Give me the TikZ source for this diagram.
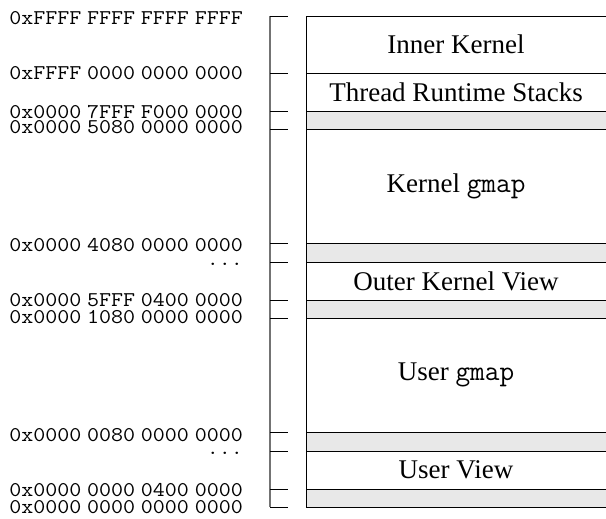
\documentclass[tikz,border=0pt]{standalone}
\usepackage{fontspec}
\usepackage{graphicx}
\setmainfont{Liberation Serif}
\newcommand{\hexsp}{\hspace{5.2pt}}
\newcommand{\hx}[4]{\scalebox{1.11}[1]{#1\hexsp#2\hexsp#3\hexsp#4}}
\begin{document}
\begin{tikzpicture}[x=1pt,y=-1pt,
  addr/.style={anchor=base east,inner sep=0pt,font=\fontsize{21}{22}\selectfont\ttfamily},
  region/.style={draw=black,line width=0.9pt},
  gap/.style={region,fill=black!9},
  lbl/.style={inner sep=0pt,font=\fontsize{27}{30}\selectfont},
  tick/.style={draw=black,line width=0.9pt},
  brace/.style={draw=black!55,line width=1.4pt}]
\useasboundingbox (0,0) rectangle (606,519);
% bracket
\coordinate (bt) at (270,16);
\coordinate (bb) at (270,507);
\draw[brace] (bt) -- (bb);
\foreach \y/\n in {16/a,73/b,111/c,129/d,243/e,262/f,300/g,318/h,432/i,451/j,489/k,507/l}{
  \coordinate (t\n) at (270,\y);
  \coordinate (u\n) at (288,\y);
  \draw[tick] (t\n) -- (u\n);
}
% regions
\draw[region] (306,16) rectangle (606,73);
\draw[region] (306,73) rectangle (606,111);
\draw[gap] (306,111) rectangle (606,129);
\draw[region] (306,129) rectangle (606,243);
\draw[gap] (306,243) rectangle (606,262);
\draw[region] (306,262) rectangle (606,300);
\draw[gap] (306,300) rectangle (606,318);
\draw[region] (306,318) rectangle (606,432);
\draw[gap] (306,432) rectangle (606,451);
\draw[region] (306,451) rectangle (606,489);
\draw[gap] (306,489) rectangle (606,507);
% region labels
\node[lbl] (inner) at (456,44.5) {Inner Kernel};
\node[lbl] (stacks) at (456,92) {Thread Runtime Stacks};
\node[lbl] (kgmap) at (456,186) {Kernel {\fontsize{28.5}{30}\selectfont\ttfamily gmap}};
\node[lbl] (okv) at (456,281) {Outer Kernel View};
\node[lbl] (ugmap) at (456,375) {User {\fontsize{28.5}{30}\selectfont\ttfamily gmap}};
\node[lbl] (uv) at (456,470) {User View};
% address labels
\node[addr] (l1) at (243,25) {\hx{0xFFFF}{FFFF}{FFFF}{FFFF}};
\node[addr] (l2) at (243,80) {\hx{0xFFFF}{0000}{0000}{0000}};
\node[addr] (l3) at (243,119) {\hx{0x0000}{7FFF}{F000}{0000}};
\node[addr] (l4) at (243,133) {\hx{0x0000}{5080}{0000}{0000}};
\node[addr] (l5) at (243,251) {\hx{0x0000}{4080}{0000}{0000}};
\node[addr] (d1) at (243,265) {\scalebox{1.11}[1]{...}};
\node[addr] (l6) at (243,306) {\hx{0x0000}{5FFF}{0400}{0000}};
\node[addr] (l7) at (243,323) {\hx{0x0000}{1080}{0000}{0000}};
\node[addr] (l8) at (243,441) {\hx{0x0000}{0080}{0000}{0000}};
\node[addr] (d2) at (243,454) {\scalebox{1.11}[1]{...}};
\node[addr] (l9) at (243,496) {\hx{0x0000}{0000}{0400}{0000}};
\node[addr] (l10) at (243,513) {\hx{0x0000}{0000}{0000}{0000}};
\end{tikzpicture}
\end{document}
